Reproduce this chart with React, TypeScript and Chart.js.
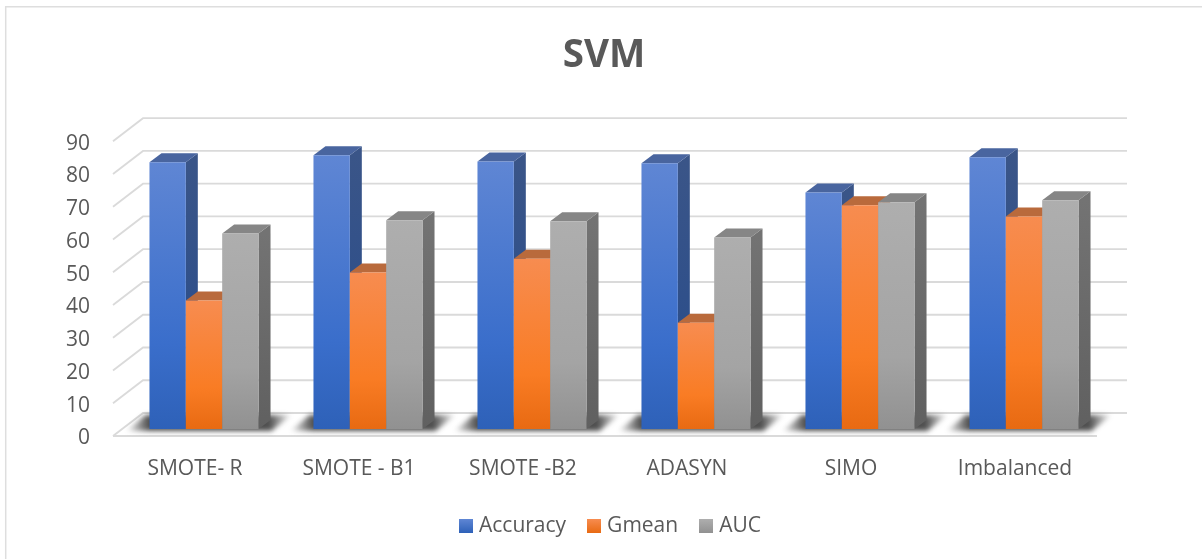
import React, { useEffect, useRef } from "react";
import { Chart, registerables } from "chart.js";

Chart.register(...registerables);

const categories = ["SMOTE- R", "SMOTE - B1", "SMOTE -B2", "ADASYN", "SIMO", "Imbalanced"];
const accuracy = [81.4, 83.6, 81.7, 81.1, 72.2, 83];
const gmean = [39.2, 47.8, 52, 32.4, 68.3, 64.9];
const auc = [59.7, 63.7, 63.4, 58.5, 69.2, 69.8];

const FONT = "'Open Sans', sans-serif";
const TEXT = "#595959";
const GRID = "#dadada";
const wallDx = 30, wallDy = -23;
const barShiftX = 9, barShiftY = -7;
const depthDx = 12, depthDy = -9;
const swatch = 14;

const palette = [
  { top: "#5f86d4", mid: "#3a6ecb", bottom: "#2e61b8", sideTop: "#3a5588", sideBottom: "#264b8c", cap: "#49659f" },
  { top: "#f78c50", mid: "#f97c24", bottom: "#e86a12", sideTop: "#b5673a", sideBottom: "#a34c0c", cap: "#b96a3c" },
  { top: "#aeaeae", mid: "#a4a4a4", bottom: "#919191", sideTop: "#737373", sideBottom: "#606060", cap: "#868686" },
];

function face(ctx: CanvasRenderingContext2D, pts: number[][], fill: any) {
  ctx.beginPath();
  pts.forEach((p, i) => (i ? ctx.lineTo(p[0], p[1]) : ctx.moveTo(p[0], p[1])));
  ctx.closePath();
  ctx.fillStyle = fill;
  ctx.fill();
}

function swatchFill(ctx: CanvasRenderingContext2D, i: number, y: number) {
  const g = ctx.createLinearGradient(0, y, 0, y + swatch);
  g.addColorStop(0, palette[i].top);
  g.addColorStop(1, palette[i].bottom);
  return g;
}

const scene3d = {
  id: "scene3d",
  afterLayout(chart: any) {
    chart.legend.left += 6;
    chart.legend.right += 6;
  },
  beforeDraw(chart: any) {
    const { ctx, width, height } = chart;
    ctx.save();
    ctx.fillStyle = "#ffffff";
    ctx.fillRect(0, 0, width, height);
    ctx.strokeStyle = "#dedede";
    ctx.lineWidth = 1.5;
    ctx.beginPath();
    ctx.moveTo(5.7, height);
    ctx.lineTo(5.7, 6.7);
    ctx.lineTo(width, 6.7);
    ctx.stroke();
    ctx.restore();
  },
  afterDraw(chart: any) {
    // widen the legend keys to their full size; the text stays close to them
    const { ctx, legend } = chart;
    ctx.save();
    legend.legendHitBoxes.forEach((hb: any, i: number) => {
      const y = Math.round(hb.top + hb.height / 2 - swatch / 2);
      ctx.fillStyle = swatchFill(ctx, i, y);
      ctx.fillRect(Math.round(hb.left), y, swatch, swatch);
    });
    ctx.restore();
  },
  beforeDatasetsDraw(chart: any) {
    const { ctx, chartArea, scales } = chart;
    const { left, right } = chartArea;
    ctx.save();
    // walls and floor
    ctx.strokeStyle = GRID;
    ctx.lineWidth = 1.8;
    scales.y.ticks.forEach((t: any) => {
      const y = scales.y.getPixelForValue(t.value);
      ctx.beginPath();
      ctx.moveTo(left, y);
      ctx.lineTo(left + wallDx, y + wallDy);
      ctx.lineTo(right + wallDx, y + wallDy);
      ctx.stroke();
    });
    const y0 = scales.y.getPixelForValue(0);
    ctx.lineWidth = 2.2;
    ctx.beginPath();
    ctx.moveTo(left, y0);
    ctx.lineTo(right, y0);
    ctx.stroke();

    const metas = [0, 1, 2].map((i) => chart.getDatasetMeta(i));

    // floor shadow under each group
    ctx.save();
    ctx.translate(barShiftX, barShiftY);
    ctx.filter = "blur(2.5px)";
    categories.forEach((_, i) => {
      const a = metas[0].data[i];
      const c = metas[2].data[i];
      const l = a.x - a.width / 2;
      const r = c.x + c.width / 2;
      const b = a.base;
      const g = ctx.createLinearGradient(l - 24, 0, r + 34, 0);
      g.addColorStop(0, "rgba(70,70,70,0)");
      g.addColorStop(0.14, "rgba(70,70,70,0.95)");
      g.addColorStop(0.86, "rgba(70,70,70,0.95)");
      g.addColorStop(1, "rgba(70,70,70,0)");
      face(ctx, [[l - 23, b + 2], [l - 4, b - 14], [r + 33, b - 14], [r + 13, b + 2]], g);
    });
    ctx.restore();

    // bars, left to right so that each one covers the side of the previous one
    ctx.translate(barShiftX, barShiftY);
    metas.forEach((meta, d) => {
      const col = palette[d];
      meta.data.forEach((el: any) => {
        const r = el.x + el.width / 2;
        const l = el.x - el.width / 2;
        const t = el.y;
        const b = el.base;
        const sg = ctx.createLinearGradient(0, t, 0, b);
        sg.addColorStop(0, col.sideTop);
        sg.addColorStop(1, col.sideBottom);
        face(ctx, [[r, t], [r + depthDx, t + depthDy], [r + depthDx, b + depthDy], [r, b]], sg);
        face(ctx, [[l, t], [l + depthDx, t + depthDy], [r + depthDx, t + depthDy], [r, t]], col.cap);
        el.draw(ctx);
      });
    });
    ctx.restore();
    return false;
  },
};

function fillFor(d: number) {
  return (c: any) => {
    const col = palette[d];
    const s = c.chart.scales && c.chart.scales.y;
    if (c.type !== "data" || typeof c.raw !== "number" || !s) return col.bottom;
    const y1 = s.getPixelForValue(c.raw);
    const y0 = s.getPixelForValue(0);
    if (!Number.isFinite(y1) || !Number.isFinite(y0)) return col.bottom;
    const g = c.chart.ctx.createLinearGradient(0, y1, 0, y0);
    g.addColorStop(0, col.top);
    g.addColorStop(0.68, col.mid);
    g.addColorStop(1, col.bottom);
    return g;
  };
}

export default function App() {
  const ref = useRef<HTMLCanvasElement>(null);
  useEffect(() => {
    const chart = new Chart(ref.current as HTMLCanvasElement, {
      type: "bar",
      data: {
        labels: categories,
        datasets: [
          { label: "Accuracy", data: accuracy, backgroundColor: fillFor(0) },
          { label: "Gmean", data: gmean, backgroundColor: fillFor(1) },
          { label: "AUC", data: auc, backgroundColor: fillFor(2) },
        ],
      },
      options: {
        responsive: false,
        animation: false,
        layout: { padding: { left: 6, right: 0, top: 0, bottom: 12.5 } },
        datasets: { bar: { categoryPercentage: 0.665, barPercentage: 1, borderWidth: 0 } },
        plugins: {
          tooltip: { enabled: false },
          title: {
            display: true,
            text: "SVM",
            color: TEXT,
            font: { family: FONT, size: 38.5, weight: "bold", lineHeight: 1.2 },
            padding: { top: 33, bottom: 62 },
          },
          legend: {
            position: "bottom",
            labels: {
              boxWidth: 9.5,
              boxHeight: 14,
              padding: 21,
              color: TEXT,
              font: { family: FONT, size: 21 },
            },
          },
        },
        scales: {
          x: {
            grid: { display: false },
            border: { display: false },
            ticks: { color: TEXT, font: { family: FONT, size: 21 }, padding: 12, maxRotation: 0 },
            afterFit(s: any) { s.height = 58.5; },
          },
          y: {
            min: 0,
            max: 90,
            grid: { display: false },
            border: { display: false },
            ticks: { stepSize: 10, color: TEXT, font: { family: FONT, size: 21 }, padding: 15, labelOffset: 2.5 },
            afterFit(s: any) { s.width = 107; },
          },
          rightGutter: {
            position: "right",
            display: true,
            grid: { display: false },
            border: { display: false },
            ticks: { display: false },
            afterFit(s: any) { s.width = 105; },
          },
        },
      },
      plugins: [scene3d],
    } as any);
    return () => chart.destroy();
  }, []);
  return (
    <div style={{ position: "absolute", left: 0, top: 0, width: 1202, height: 559 }}>
      <canvas ref={ref} width={1202} height={559} style={{ display: "block" }} />
    </div>
  );
}
